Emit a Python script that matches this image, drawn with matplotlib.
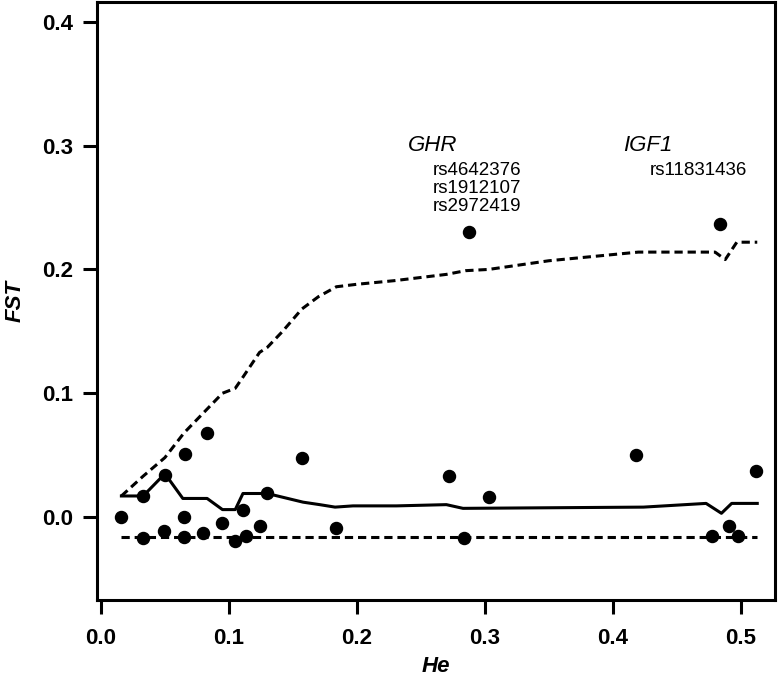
import matplotlib
matplotlib.use("Agg")
import matplotlib.pyplot as plt

plt.rcParams['font.family'] = ['Liberation Sans', 'DejaVu Sans']

# loci: heterozygosity vs FST
he = [0.016, 0.033, 0.033, 0.050, 0.049, 0.065, 0.065, 0.066, 0.083, 0.080,
      0.095, 0.105, 0.111, 0.113, 0.124, 0.130, 0.157, 0.184, 0.272, 0.303,
      0.284, 0.418, 0.512, 0.478, 0.491, 0.498, 0.288, 0.484]
fst = [0.000, -0.017, 0.017, 0.034, -0.011, -0.016, 0.000, 0.051, 0.068, -0.013,
       -0.005, -0.019, 0.006, -0.015, -0.007, 0.019, 0.048, -0.009, 0.033, 0.016,
       -0.017, 0.050, 0.037, -0.015, -0.007, -0.015, 0.230, 0.237]

# median envelope
med_he = [0.016, 0.033, 0.050, 0.064, 0.083, 0.095, 0.105, 0.111, 0.130, 0.158,
          0.171, 0.183, 0.197, 0.231, 0.270, 0.283, 0.424, 0.473, 0.485, 0.493, 0.513]
med_fst = [0.017, 0.017, 0.035, 0.015, 0.015, 0.006, 0.006, 0.019, 0.019, 0.012,
           0.010, 0.008, 0.009, 0.009, 0.010, 0.007, 0.008, 0.011, 0.003, 0.011, 0.011]

# upper quantile
up_he = [0.016, 0.033, 0.050, 0.065, 0.080, 0.095, 0.105, 0.111, 0.124, 0.130,
         0.142, 0.157, 0.170, 0.184, 0.200, 0.230, 0.270, 0.285, 0.303, 0.350,
         0.420, 0.480, 0.488, 0.497, 0.513]
up_fst = [0.017, 0.033, 0.048, 0.068, 0.084, 0.100, 0.104, 0.113, 0.133, 0.137,
          0.150, 0.168, 0.178, 0.186, 0.188, 0.191, 0.196, 0.199, 0.200, 0.207,
          0.214, 0.214, 0.208, 0.222, 0.222]

# lower quantile
lo_he = [0.016, 0.513]
lo_fst = [-0.016, -0.016]

# outlier labels
ghr_snps = ["rs4642376", "rs1912107", "rs2972419"]
igf1_snps = ["rs11831436"]

fig = plt.figure(figsize=(7.83, 6.81), dpi=100)
ax = fig.add_axes([0.124, 0.119, 0.866, 0.878])

dash = (0, (2.7, 1.6))
ax.plot(up_he, up_fst, color="black", lw=2.2, ls=dash)
ax.plot(lo_he, lo_fst, color="black", lw=2.2, ls=dash)
ax.plot(med_he, med_fst, color="black", lw=2.2)
ax.scatter(he, fst, s=75, color="black", zorder=3)

ax.text(0.240, 0.300, "GHR", fontsize=16, style="italic", va="center")
for y, lab in zip([0.280, 0.265, 0.251], ghr_snps):
    ax.text(0.259, y, lab, fontsize=13.5, va="center")
ax.text(0.408, 0.300, "IGF1", fontsize=16, style="italic", va="center")
ax.text(0.429, 0.280, igf1_snps[0], fontsize=13.5, va="center")

ax.set_xlim(-0.003, 0.527)
ax.set_ylim(-0.067, 0.416)
ax.set_xticks([0.0, 0.1, 0.2, 0.3, 0.4, 0.5])
ax.set_yticks([0.0, 0.1, 0.2, 0.3, 0.4])
ax.set_xticklabels(["0.0", "0.1", "0.2", "0.3", "0.4", "0.5"], fontweight="bold")
ax.set_yticklabels(["0.0", "0.1", "0.2", "0.3", "0.4"], fontweight="bold")
ax.tick_params(labelsize=16, width=2.2, length=10, direction="out")
ax.tick_params(axis="x", pad=10)
ax.tick_params(axis="y", pad=7)
for sp in ax.spines.values():
    sp.set_linewidth(2.2)

ax.set_xlabel("He", fontsize=16, style="italic", fontweight="bold", labelpad=5)
ax.set_ylabel("FST", fontsize=16, style="italic", fontweight="bold", labelpad=12)

fig.savefig("out.png", dpi=100)
